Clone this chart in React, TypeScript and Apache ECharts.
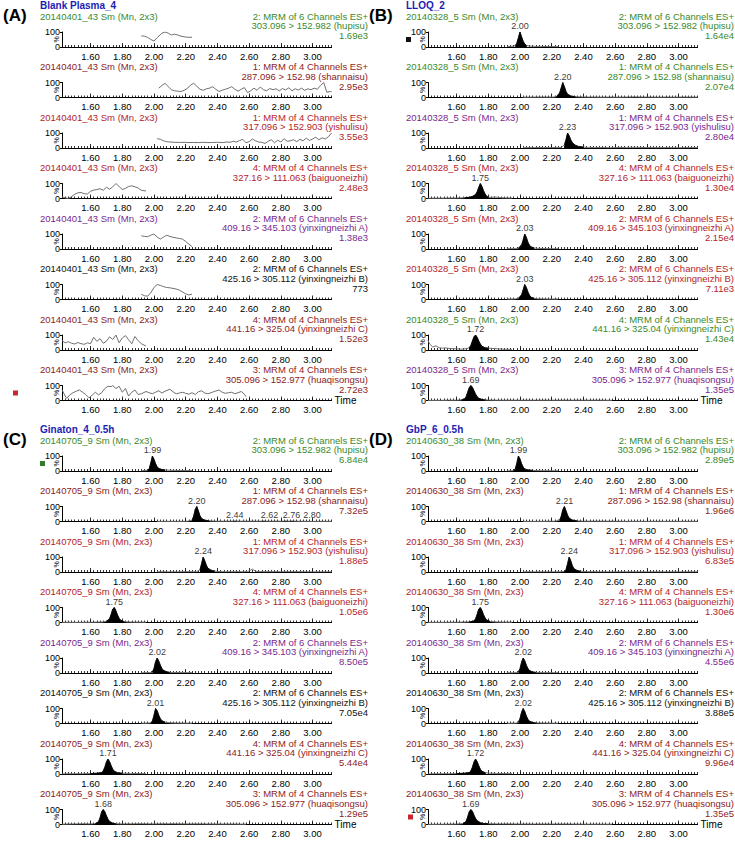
import React, { useEffect, useRef } from 'react';
import * as echarts from 'echarts';

type Pt = [number, number];

// ---------- texts ----------
const panelLetters = ['(A)', '(B)', '(C)', '(D)'];
const panelTitles = ['Blank Plasma_4', 'LLOQ_2', 'Ginaton_4_0.5h', 'GbP_6_0.5h'];
const sampleIds = ['20140401_43', '20140328_5', '20140705_9', '20140630_38'];
const channelLines = [
  '2: MRM of 6 Channels ES+',
  '1: MRM of 4 Channels ES+',
  '1: MRM of 4 Channels ES+',
  '4: MRM of 4 Channels ES+',
  '2: MRM of 6 Channels ES+',
  '2: MRM of 6 Channels ES+',
  '4: MRM of 4 Channels ES+',
  '3: MRM of 4 Channels ES+',
];
const transitions = [
  '303.096 > 152.982 (hupisu)',
  '287.096 > 152.98 (shannaisu)',
  '317.096 > 152.903 (yishulisu)',
  '327.16 > 111.063 (baiguoneizhi)',
  '409.16 > 345.103 (yinxingneizhi A)',
  '425.16 > 305.112 (yinxingneizhi B)',
  '441.16 > 325.04 (yinxingneizhi C)',
  '305.096 > 152.977 (huaqisongsu)',
];
const intensities = [
  ['1.69e3', '2.95e3', '3.55e3', '2.48e3', '1.38e3', '773', '1.52e3', '2.72e3'],
  ['1.64e4', '2.07e4', '2.80e4', '1.30e4', '2.15e4', '7.11e3', '1.43e4', '1.35e5'],
  ['6.84e4', '7.32e5', '1.88e5', '1.05e6', '8.50e5', '7.05e4', '5.44e4', '1.29e5'],
  ['2.89e5', '1.96e6', '6.83e5', '1.30e6', '4.55e6', '3.88e5', '9.96e4', '1.35e5'],
];
const xTickLabels = [1.6, 1.8, 2.0, 2.2, 2.4, 2.6, 2.8, 3.0];

// ---------- panel A (blank plasma) ----------
const a1: Pt[] = [[1.92,74],[1.94,72],[1.96,64],[1.98,50],[2.00,40],[2.02,62],[2.05,92],[2.07,100],[2.09,92],[2.11,80],[2.13,86],[2.15,80],[2.17,72],[2.19,68],[2.21,65],[2.24,65]];
const a2: Pt[] = [[2.03,62],[2.05,80],[2.07,95],[2.09,72],[2.11,52],[2.13,45],[2.15,42],[2.17,40],[2.19,48],[2.21,60],[2.23,82],[2.25,95],[2.27,75],[2.29,55],[2.31,48],[2.33,58],[2.35,62],[2.37,72],[2.39,55],[2.41,40],[2.43,48],[2.45,55],[2.47,62],[2.49,72],[2.51,55],[2.53,42],[2.55,55],[2.57,66],[2.59,32],[2.61,45],[2.63,62],[2.65,48],[2.67,70],[2.69,52],[2.71,45],[2.73,60],[2.75,52],[2.77,58],[2.79,44],[2.81,60],[2.83,50],[2.85,65],[2.87,45],[2.89,58],[2.91,50],[2.93,62],[2.95,48],[2.97,58],[2.99,52],[3.01,62],[3.03,55],[3.05,80],[3.07,100],[3.09,35],[3.11,40],[3.12,38]];
const a3: Pt[] = [[2.02,62],[2.04,58],[2.06,48],[2.08,42],[2.10,40],[2.13,38],[2.16,37],[2.19,38],[2.22,36],[2.25,37],[2.28,36],[2.31,38],[2.34,36],[2.37,37],[2.40,38],[2.43,36],[2.46,40],[2.48,38],[2.50,45],[2.52,40],[2.54,50],[2.56,58],[2.58,35],[2.60,42],[2.62,60],[2.64,48],[2.66,40],[2.68,38],[2.70,30],[2.72,45],[2.74,55],[2.76,35],[2.78,52],[2.80,40],[2.82,62],[2.84,45],[2.86,48],[2.88,55],[2.90,42],[2.92,58],[2.94,48],[2.96,66],[2.98,50],[3.00,60],[3.02,72],[3.04,55],[3.06,68],[3.08,60],[3.10,75],[3.11,88],[3.12,100]];
const a4: Pt[] = [[1.42,12],[1.44,4],[1.46,0],[1.48,12],[1.50,28],[1.52,38],[1.54,40],[1.56,32],[1.58,30],[1.60,48],[1.62,56],[1.64,60],[1.66,65],[1.68,55],[1.70,75],[1.72,62],[1.74,78],[1.76,100],[1.78,80],[1.80,60],[1.82,68],[1.84,80],[1.86,85],[1.88,78],[1.90,70],[1.92,55],[1.95,50]];
const a5: Pt[] = [[1.92,88],[1.94,84],[1.96,82],[1.98,92],[2.00,100],[2.02,80],[2.04,66],[2.06,80],[2.08,92],[2.10,84],[2.12,78],[2.14,74],[2.16,70],[2.18,66],[2.20,50],[2.22,32],[2.24,16]];
const a6: Pt[] = [[1.92,35],[1.94,25],[1.96,22],[1.98,45],[2.00,80],[2.02,100],[2.04,94],[2.06,86],[2.08,80],[2.10,78],[2.12,74],[2.14,70],[2.16,62],[2.18,50],[2.20,38],[2.22,30],[2.24,36]];
const a7: Pt[] = [[1.42,62],[1.44,48],[1.46,55],[1.48,45],[1.50,40],[1.52,50],[1.54,42],[1.56,38],[1.58,48],[1.60,42],[1.62,85],[1.64,58],[1.66,76],[1.68,45],[1.70,58],[1.72,88],[1.74,70],[1.76,100],[1.78,48],[1.80,80],[1.82,96],[1.84,68],[1.86,42],[1.88,90],[1.90,62],[1.92,42],[1.95,26]];
const a8: Pt[] = [[1.42,72],[1.44,30],[1.45,15],[1.47,38],[1.49,52],[1.51,62],[1.53,70],[1.55,55],[1.57,40],[1.59,18],[1.61,35],[1.63,55],[1.65,38],[1.67,52],[1.69,80],[1.71,95],[1.73,92],[1.74,100],[1.76,80],[1.78,95],[1.80,55],[1.82,80],[1.84,30],[1.86,55],[1.88,70],[1.90,40],[1.92,45],[1.95,60],[1.97,52],[1.99,45],[2.01,55],[2.03,65],[2.05,50],[2.07,62],[2.10,75],[2.12,58],[2.14,45],[2.16,50],[2.18,55],[2.20,48],[2.22,42],[2.24,52],[2.26,40],[2.28,58],[2.30,65],[2.32,50],[2.34,45],[2.36,52],[2.38,60],[2.41,70],[2.43,55],[2.45,48],[2.47,52],[2.49,55],[2.51,45],[2.53,52],[2.55,60],[2.57,42],[2.58,25]];

// ---------- panel B (LLOQ) ----------
const b1: Pt[] = [[1.92,3],[1.94,4],[1.96,6],[1.97,9],[1.98,25],[1.99,62],[2.00,100],[2.01,68],[2.02,38],[2.03,20],[2.04,11],[2.06,6],[2.08,5],[2.10,4],[2.13,4],[2.16,3],[2.20,3],[2.24,2]];
const b2: Pt[] = [[2.02,2],[2.06,2],[2.10,3],[2.14,3],[2.18,3],[2.21,3],[2.23,6],[2.25,30],[2.26,65],[2.27,100],[2.28,72],[2.29,40],[2.30,22],[2.32,10],[2.35,5],[2.39,4],[2.43,3],[2.47,3],[2.52,2],[2.57,3],[2.62,2],[2.67,3],[2.72,4],[2.77,3],[2.82,3],[2.87,2],[2.92,3],[2.97,2],[3.02,3],[3.07,3],[3.12,2]];
const b3: Pt[] = [[2.02,2],[2.06,2],[2.10,3],[2.15,3],[2.20,3],[2.24,3],[2.26,4],[2.28,20],[2.29,55],[2.30,100],[2.31,82],[2.32,55],[2.33,35],[2.35,18],[2.37,10],[2.40,6],[2.43,4],[2.47,3],[2.52,3],[2.57,2],[2.62,3],[2.67,4],[2.72,5],[2.77,3],[2.82,3],[2.87,2],[2.92,3],[2.97,2],[3.02,2],[3.07,3],[3.12,2]];
const b4: Pt[] = [[1.42,2],[1.50,2],[1.55,3],[1.60,3],[1.65,5],[1.68,8],[1.70,14],[1.72,26],[1.73,45],[1.74,75],[1.75,100],[1.76,80],[1.77,52],[1.78,30],[1.79,15],[1.80,8],[1.82,8],[1.84,10],[1.86,8],[1.88,5],[1.91,4],[1.95,3]];
const b5: Pt[] = [[1.92,2],[1.95,2],[1.97,3],[1.99,6],[2.01,25],[2.02,60],[2.03,100],[2.04,78],[2.05,45],[2.06,25],[2.07,14],[2.09,7],[2.11,4],[2.14,3],[2.18,2],[2.24,2]];
const b6: Pt[] = [[1.92,3],[1.95,3],[1.97,4],[1.99,8],[2.01,30],[2.02,65],[2.03,100],[2.04,80],[2.05,50],[2.06,28],[2.07,15],[2.09,8],[2.11,5],[2.14,4],[2.18,3],[2.24,3]];
const b7: Pt[] = [[1.42,65],[1.43,40],[1.45,20],[1.47,28],[1.49,15],[1.51,12],[1.53,14],[1.56,9],[1.60,8],[1.63,6],[1.66,8],[1.68,15],[1.69,30],[1.70,60],[1.71,88],[1.72,100],[1.73,85],[1.74,60],[1.75,40],[1.76,25],[1.78,15],[1.80,12],[1.83,10],[1.86,8],[1.90,5],[1.95,4]];
const b8: Pt[] = [[1.42,1],[1.50,1],[1.55,2],[1.60,2],[1.63,4],[1.65,10],[1.66,25],[1.67,55],[1.68,85],[1.69,100],[1.70,88],[1.71,65],[1.72,42],[1.73,25],[1.74,15],[1.76,7],[1.78,4],[1.80,3],[1.85,2],[1.90,2],[2.00,2],[2.10,2],[2.20,2],[2.30,2],[2.40,2],[2.50,2],[2.58,1]];

// ---------- panel C (Ginaton 0.5 h) ----------
const c1: Pt[] = [[1.92,2],[1.94,3],[1.96,5],[1.97,15],[1.98,55],[1.99,100],[2.00,78],[2.01,48],[2.02,28],[2.03,17],[2.05,10],[2.07,7],[2.10,5],[2.13,4],[2.17,3],[2.24,3]];
const c2: Pt[] = [[2.02,1],[2.06,1],[2.10,1],[2.14,1],[2.18,1],[2.21,2],[2.24,8],[2.25,35],[2.26,80],[2.27,100],[2.28,70],[2.29,38],[2.30,20],[2.32,9],[2.35,4],[2.39,2],[2.43,2],[2.47,2],[2.49,2],[2.51,4],[2.53,2],[2.57,2],[2.62,2],[2.67,2],[2.69,4],[2.71,2],[2.77,2],[2.81,2],[2.83,4],[2.85,2],[2.87,4],[2.89,2],[2.97,1],[3.05,1],[3.12,1]];
const c3: Pt[] = [[2.02,1],[2.06,1],[2.10,1],[2.15,1],[2.20,2],[2.25,2],[2.27,3],[2.29,15],[2.30,55],[2.31,100],[2.32,75],[2.33,45],[2.34,25],[2.36,12],[2.38,6],[2.41,3],[2.45,2],[2.51,2],[2.56,2],[2.59,3],[2.61,12],[2.62,20],[2.63,12],[2.65,3],[2.70,2],[2.80,2],[2.90,2],[3.00,1],[3.12,1]];
const c4: Pt[] = [[1.42,1],[1.55,1],[1.62,2],[1.67,3],[1.70,8],[1.72,25],[1.73,55],[1.74,90],[1.75,100],[1.76,78],[1.77,50],[1.78,28],[1.79,15],[1.81,7],[1.83,4],[1.86,3],[1.90,2],[1.95,2]];
const c5: Pt[] = [[1.92,1],[1.95,2],[1.98,3],[1.99,8],[2.00,30],[2.01,75],[2.02,100],[2.03,80],[2.04,52],[2.05,30],[2.06,17],[2.08,8],[2.10,4],[2.14,3],[2.24,2]];
const c6: Pt[] = [[1.92,2],[1.95,2],[1.98,4],[1.99,15],[2.00,55],[2.01,100],[2.02,85],[2.03,55],[2.04,32],[2.05,18],[2.07,9],[2.10,5],[2.14,3],[2.24,2]];
const c7: Pt[] = [[1.42,1],[1.55,2],[1.60,3],[1.64,5],[1.67,10],[1.68,20],[1.69,45],[1.70,80],[1.71,100],[1.72,82],[1.73,55],[1.74,32],[1.75,18],[1.77,9],[1.80,5],[1.85,4],[1.90,3],[1.95,2]];
const c8: Pt[] = [[1.42,2],[1.50,4],[1.55,5],[1.60,4],[1.63,6],[1.65,18],[1.66,45],[1.67,85],[1.68,100],[1.69,85],[1.70,58],[1.71,35],[1.72,20],[1.74,9],[1.76,5],[1.80,4],[1.90,5],[2.00,4],[2.10,5],[2.20,4],[2.30,4],[2.40,3],[2.50,3],[2.58,2]];

// ---------- panel D (GbP 0.5 h) ----------
const d1: Pt[] = [[1.92,1],[1.94,1],[1.96,3],[1.97,12],[1.98,52],[1.99,100],[2.00,80],[2.01,48],[2.02,26],[2.03,14],[2.05,7],[2.08,4],[2.12,2],[2.17,2],[2.24,1]];
const d2: Pt[] = [[2.02,1],[2.06,1],[2.10,1],[2.15,1],[2.20,2],[2.22,2],[2.25,8],[2.26,35],[2.27,78],[2.28,100],[2.29,72],[2.30,42],[2.31,22],[2.33,10],[2.36,4],[2.40,2],[2.47,2],[2.57,2],[2.67,1],[2.77,1],[2.87,1],[2.97,1],[3.12,1]];
const d3: Pt[] = [[2.02,1],[2.10,1],[2.18,1],[2.25,1],[2.28,3],[2.29,15],[2.30,55],[2.31,100],[2.32,75],[2.33,42],[2.34,22],[2.36,10],[2.38,5],[2.42,2],[2.52,1],[2.62,1],[2.72,1],[2.87,1],[3.00,1],[3.12,1]];
const d4: Pt[] = [[1.42,1],[1.55,1],[1.63,2],[1.68,4],[1.71,10],[1.72,25],[1.73,55],[1.74,90],[1.75,100],[1.76,80],[1.77,52],[1.78,30],[1.79,16],[1.81,8],[1.83,5],[1.86,3],[1.90,2],[1.95,2]];
const d5: Pt[] = [[1.92,1],[1.95,1],[1.98,3],[1.99,8],[2.00,28],[2.01,72],[2.02,100],[2.03,82],[2.04,52],[2.05,30],[2.06,16],[2.08,7],[2.10,4],[2.14,2],[2.24,2]];
const d6: Pt[] = [[1.92,1],[1.95,2],[1.98,3],[1.99,9],[2.00,32],[2.01,75],[2.02,100],[2.03,80],[2.04,50],[2.05,28],[2.06,15],[2.08,7],[2.10,4],[2.14,3],[2.24,2]];
const d7: Pt[] = [[1.42,1],[1.55,2],[1.60,3],[1.65,5],[1.68,10],[1.69,20],[1.70,45],[1.71,80],[1.72,100],[1.73,82],[1.74,55],[1.75,32],[1.76,18],[1.78,9],[1.81,5],[1.85,4],[1.90,3],[1.95,2]];
const d8: Pt[] = [[1.42,1],[1.55,2],[1.60,3],[1.64,6],[1.66,20],[1.67,50],[1.68,85],[1.69,100],[1.70,88],[1.71,62],[1.72,40],[1.73,25],[1.75,12],[1.77,7],[1.80,5],[1.85,4],[1.90,4],[2.00,3],[2.10,3],[2.20,3],[2.30,3],[2.40,2],[2.50,2],[2.58,2]];

const traces: Pt[][][] = [
  [a1, a2, a3, a4, a5, a6, a7, a8],
  [b1, b2, b3, b4, b5, b6, b7, b8],
  [c1, c2, c3, c4, c5, c6, c7, c8],
  [d1, d2, d3, d4, d5, d6, d7, d8],
];

// integrated (filled) peak windows, in minutes (as drawn)
const peakWindows: ([number, number] | null)[][] = [
  [null, null, null, null, null, null, null, null],
  [[1.965, 2.05], [2.22, 2.37], [2.27, 2.41], [1.64, 1.80], [1.985, 2.10], [1.985, 2.10], [1.665, 1.80], [1.63, 1.78]],
  [[1.955, 2.09], [2.22, 2.37], [2.28, 2.39], [1.68, 1.82], [1.985, 2.10], [1.975, 2.09], [1.60, 1.80], [1.62, 1.77]],
  [[1.955, 2.08], [2.23, 2.37], [2.27, 2.39], [1.68, 1.82], [1.985, 2.10], [1.985, 2.10], [1.60, 1.80], [1.62, 1.82]],
];

// peak labels: [printed retention time, drawn apex position]
const peakLabels: [number, number][][][] = [
  [[], [], [], [], [], [], [], []],
  [[[2.00, 2.00]], [[2.20, 2.27]], [[2.23, 2.30]], [[1.75, 1.75]], [[2.03, 2.03]], [[2.03, 2.03]], [[1.72, 1.72]], [[1.69, 1.69]]],
  [[[1.99, 1.99]], [[2.20, 2.27], [2.44, 2.51], [2.62, 2.69], [2.76, 2.83], [2.80, 2.87]], [[2.24, 2.31]], [[1.75, 1.75]], [[2.02, 2.02]], [[2.01, 2.01]], [[1.71, 1.71]], [[1.68, 1.68]]],
  [[[1.99, 1.99]], [[2.21, 2.28]], [[2.24, 2.31]], [[1.75, 1.75]], [[2.02, 2.02]], [[2.02, 2.02]], [[1.72, 1.72]], [[1.69, 1.69]]],
];

// ---------- styles / layout ----------
const GREEN = '#3a8a2a';
const DRED = '#8c1d1d';
const RED = '#b3242b';
const PURPLE = '#7a1f8e';
const BLACK = '#111111';
const rowColors = [
  [GREEN, DRED, RED, RED, PURPLE, BLACK, DRED, DRED],
  [GREEN, GREEN, PURPLE, RED, RED, RED, GREEN, PURPLE],
  [GREEN, DRED, RED, RED, PURPLE, BLACK, DRED, DRED],
  [GREEN, DRED, RED, RED, PURPLE, BLACK, DRED, DRED],
];
const markers = [
  { panel: 0, row: 7, color: '#c8282d', dx: 13 },
  { panel: 1, row: 0, color: '#111111', dx: 40 },
  { panel: 2, row: 0, color: '#2f7d2a', dx: 40 },
  { panel: 3, row: 7, color: '#c8282d', dx: 42 },
];
// horizontal nudges of crowded peak labels (panel-row -> px per label)
const labelNudges: Record<string, number[]> = { '2-1': [0, 0, 6, 6, 20] };

const FONT = '"Liberation Sans", Arial, Helvetica, sans-serif';
const PANEL_DX = 366;
const PANEL_DY = 424;
const HEAD0 = 16;
const PITCH = 50.5;
const GH = 15;
const GL = 62;
const XMIN = 1.42;
const XMAX = 3.12;
const PX_PER_MIN = 158.6;
const GW = (XMAX - XMIN) * PX_PER_MIN;

function txt(x: number, y: number, text: string, fill: string, size: number, align: string, bold = false, rotation = 0) {
  return {
    type: 'text',
    x,
    y,
    rotation,
    silent: true,
    style: {
      text,
      fill,
      font: `${bold ? 'bold ' : ''}${size}px ${FONT}`,
      align,
      verticalAlign: 'middle',
      textAlign: align,
      textVerticalAlign: 'middle',
    },
  };
}

function buildOption() {
  const grid: any[] = [];
  const xAxis: any[] = [];
  const yAxis: any[] = [];
  const series: any[] = [];
  const graphic: any[] = [];
  let gi = 0;
  for (let p = 0; p < 4; p++) {
    const ox = (p % 2) * PANEL_DX;
    const oy = Math.floor(p / 2) * PANEL_DY;
    graphic.push(txt(ox + 3, oy + 15, panelLetters[p], '#000', 17, 'left', true));
    graphic.push(txt(ox + 40, oy + 5, panelTitles[p], '#1c1cb4', 10, 'left', true));
    for (let r = 0; r < 8; r++) {
      const head = oy + HEAD0 + r * PITCH;
      const top = head + 16;
      const col = rowColors[p][r];
      graphic.push(txt(ox + 40, head, `${sampleIds[p]} Sm (Mn, 2x3)`, col, 9.5, 'left'));
      graphic.push(txt(ox + 368, head, channelLines[r], col, 9.5, 'right'));
      graphic.push(txt(ox + 368, head + 9.5, transitions[r], col, 9.5, 'right'));
      graphic.push(txt(ox + 368, head + 19.5, intensities[p][r], col, 9.5, 'right'));
      graphic.push(txt(ox + 56, top + GH / 2, '%', '#000', 7, 'center', false, Math.PI / 2));

      grid.push({ left: ox + GL, top, width: GW, height: GH });
      const last = r === 7;
      xAxis.push({
        gridIndex: gi,
        type: 'value',
        position: 'bottom',
        min: XMIN,
        max: XMAX,
        interval: 0.02,
        axisLine: { show: true, onZero: false, lineStyle: { color: '#000', width: 1 } },
        axisTick: { show: true, inside: true, length: 2, lineStyle: { color: '#000', width: 0.8 } },
        axisLabel: {
          show: true,
          customValues: xTickLabels,
          formatter: (v: number) => v.toFixed(2),
          fontSize: 9.5,
          fontFamily: FONT,
          color: '#000',
          margin: 4,
        },
        splitLine: { show: false },
        name: last ? 'Time' : '',
        nameLocation: 'end',
        nameGap: 3,
        nameTextStyle: { fontSize: 10, fontFamily: FONT, color: '#000', verticalAlign: 'middle', padding: [0, 0, 2, 0] },
      });
      xAxis.push({
        gridIndex: gi,
        type: 'value',
        position: 'bottom',
        min: XMIN,
        max: XMAX,
        axisLine: { show: false },
        axisTick: { show: true, inside: true, customValues: xTickLabels, length: 4, lineStyle: { color: '#000', width: 0.8 } },
        axisLabel: { show: false },
        splitLine: { show: false },
      });
      yAxis.push({
        gridIndex: gi,
        type: 'value',
        position: 'left',
        min: 0,
        max: 100,
        interval: 100,
        axisLine: { show: true, lineStyle: { color: '#000', width: 1 } },
        axisTick: { show: true, length: 2, lineStyle: { color: '#000' } },
        axisLabel: { fontSize: 9, fontFamily: FONT, color: '#000', margin: 2 },
        splitLine: { show: false },
      });

      const data = traces[p][r];
      series.push({
        type: 'line',
        xAxisIndex: 2 * gi,
        yAxisIndex: gi,
        data,
        symbol: 'none',
        silent: true,
        lineStyle: { color: '#707070', width: 1 },
        z: 2,
      });
      const win = peakWindows[p][r];
      if (win) {
        series.push({
          type: 'line',
          xAxisIndex: 2 * gi,
          yAxisIndex: gi,
          data: data.filter((d) => d[0] >= win[0] - 1e-9 && d[0] <= win[1] + 1e-9),
          symbol: 'none',
          silent: true,
          lineStyle: { color: '#000', width: 0.8 },
          areaStyle: { color: '#000', opacity: 1 },
          z: 3,
        });
      }
      const labs = peakLabels[p][r];
      if (labs.length) {
        const nudges = labelNudges[`${p}-${r}`] || [];
        const pts = labs
          .map(([printed, at], i) => {
            const d = data.find((q) => Math.abs(q[0] - at) < 1e-6);
            if (!d) return null;
            return {
              value: d,
              label: { offset: [nudges[i] || 0, 0], formatter: printed.toFixed(2) },
            };
          })
          .filter((d) => !!d);
        series.push({
          type: 'scatter',
          xAxisIndex: 2 * gi,
          yAxisIndex: gi,
          data: pts,
          symbolSize: 1,
          silent: true,
          itemStyle: { color: 'rgba(0,0,0,0)' },
          label: {
            show: true,
            position: 'top',
            distance: 1,
            fontSize: 9,
            fontFamily: FONT,
            color: '#000',
          },
          z: 4,
        });
      }
      gi++;
    }
  }
  markers.forEach((m) => {
    const ox = (m.panel % 2) * PANEL_DX;
    const oy = Math.floor(m.panel / 2) * PANEL_DY;
    const top = oy + HEAD0 + m.row * PITCH + 16;
    graphic.push({
      type: 'rect',
      silent: true,
      shape: { x: ox + m.dx, y: top + 5, width: 5, height: 5 },
      style: { fill: m.color },
    });
  });

  return {
    animation: false,
    backgroundColor: '#ffffff',
    grid,
    xAxis,
    yAxis,
    series,
    graphic,
  };
}

export default function App() {
  const ref = useRef<HTMLDivElement>(null);
  useEffect(() => {
    if (!ref.current) return;
    const chart = echarts.init(ref.current, null, { renderer: 'svg' });
    chart.setOption(buildOption() as any);
    return () => {
      chart.dispose();
    };
  }, []);
  return (
    <div
      ref={ref}
      style={{ position: 'fixed', left: 0, top: 0, width: 735, height: 846, background: '#fff' }}
    />
  );
}
